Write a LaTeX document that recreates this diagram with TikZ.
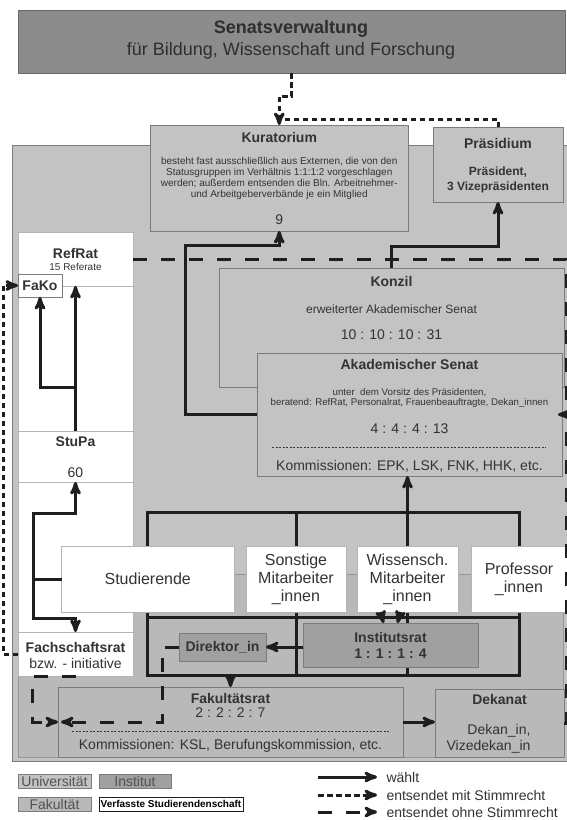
\documentclass[tikz,border=0pt]{standalone}
\usepackage{fontspec}
\setmainfont{Liberation Sans}
\usetikzlibrary{arrows,backgrounds,calc}

\definecolor{univ}{HTML}{C3C3C3}
\definecolor{fakc}{HTML}{B9B9B9}
\definecolor{inst}{HTML}{A0A0A0}
\definecolor{senat}{HTML}{8C8C8C}
\definecolor{edge}{HTML}{7C7C7C}
\definecolor{pale}{HTML}{B4B4B4}
\definecolor{txt}{HTML}{333333}
\definecolor{lin}{HTML}{1E1E1E}

\begin{document}
\begin{tikzpicture}[x=1pt,y=-1pt,>=stealth',
    box/.style={draw=edge,line width=0.6pt,inner sep=0pt,outer sep=0pt,anchor=north west},
    sz/.style 2 args={minimum width=#1pt,minimum height=#2pt},
    unibox/.style={box,fill=univ},
    fakbox/.style={box,fill=fakc},
    instbox/.style={box,fill=inst},
    vsbox/.style={box,fill=white,draw=pale},
    wahl/.style={line width=3pt,draw=lin},
    mit/.style={line width=3pt,draw=lin,dash pattern=on 5.5pt off 3.5pt},
    ohne/.style={line width=3pt,draw=lin,dash pattern=on 14pt off 14pt},
    sepline/.style={draw=txt,line width=0.5pt,dash pattern=on 2pt off 1.5pt}]
  \tikzstyle{ttl}=[text=txt,font=\bfseries\fontsize{14}{16}\selectfont]
  \tikzstyle{big}=[text=txt,font=\fontsize{14}{16}\selectfont]
  \tikzstyle{grp}=[text=txt,align=center,font=\fontsize{16}{18}\selectfont]
  \tikzstyle{fine}=[text=txt,align=center,font=\fontsize{10}{11}\selectfont]

  \useasboundingbox (0,0) rectangle (567,820);
  \begin{scope}[on background layer]
    \fill[white] (0,0) rectangle (567,820);
    \node[unibox,sz={556}{616}]            (uni) at (12.5,145) {};
    \node[fakbox,draw=edge!80,sz={545}{183}] (fak) at (18,574) {};
  \end{scope}

  \node[box,fill=senat,draw=senat!75!black,sz={547}{63}] (senat) at (18,10) {};
  \node[ttl,text=txt!90!black,font=\bfseries\fontsize{18}{20}\selectfont] (senatT) at (291,29) {Senatsverwaltung};
  \node[big,text=txt!90!black,font=\fontsize{18}{20}\selectfont] (senatS) at (291,51) {für Bildung, Wissenschaft und Forschung};

  \node[unibox,sz={257.5}{106}] (kura)  at (150.5,125) {};
  \node[ttl]                    (kuraT) at (279.25,137) {Kuratorium};
  \node[fine]                   (kuraB) at (279.25,178.5) {besteht fast ausschließlich aus Externen, die von den\\
    Statusgruppen im Verhältnis 1:1:1:2 vorgeschlagen\\
    werden; außerdem entsenden die Bln. Arbeitnehmer-\\
    und Arbeitgeberverbände je ein Mitglied};
  \node[big]                    (kuraN) at (279.25,220) {9};

  \node[unibox,sz={130}{75}]    (praes)  at (433,127) {};
  \node[ttl]                    (praesT) at (498,143) {Präsidium};
  \node[ttl,align=center,font=\bfseries\fontsize{12}{15}\selectfont] (praesB) at (498,179.5) {Präsident,\\3 Vizepräsidenten};

  \node[vsbox,sz={115}{444}]    (vs)      at (18,232) {};
  \node[vsbox,sz={115}{54}]     (refrat)  at (18,232) {};
  \node[ttl]                    (refratT) at (75.5,253) {RefRat};
  \node[fine]                   (refratS) at (75.5,267) {15 Referate};
  \node[vsbox,draw=edge,ttl,sz={44}{23}] (fako) at (18,274) {FaKo};
  \node[vsbox,sz={115}{51}]     (stupa)   at (18,431) {};
  \node[ttl]                    (stupaT)  at (75.5,442) {StuPa};
  \node[big]                    (stupaN)  at (75.5,473) {60};
  \node[vsbox,sz={115}{44}]     (fsr)     at (18,632) {};
  \node[ttl]                    (fsrT)    at (75.5,647) {Fachschaftsrat};
  \node[big]                    (fsrS)    at (75.5,663) {bzw. - initiative};

  \node[unibox,sz={345}{119}]   (konzil)  at (219,268) {};
  \node[ttl]                    (konzilT) at (391.5,281) {Konzil};
  \node[fine,font=\fontsize{12}{14}\selectfont] (konzilS) at (391.5,309) {erweiterter Akademischer Senat};
  \node[big]                    (konzilN) at (391.5,335) {10 : 10 : 10 : 31};

  \node[unibox,sz={305}{123}]   (as)  at (257,353) {};
  \node[ttl]                    (asT) at (409.5,364) {Akademischer Senat};
  \node[fine,font=\fontsize{9.7}{10.5}\selectfont] (asS) at (409.5,398) {unter~ dem Vorsitz des Präsidenten,\\
    beratend: RefRat, Personalrat, Frauenbeauftragte, Dekan\_innen};
  \node[big]                    (asN) at (409.5,429) {4 : 4 : 4 : 13};
  \draw[sepline] ($(as.south west)+(15,-29)$) -- ($(as.south east)+(-16,-29)$);
  \node[big]                    (asK) at (409.5,466) {Kommissionen: EPK, LSK, FNK, HHK, etc.};

  \node[vsbox,grp,sz={172.5}{66}] (stud)  at (61.5,546) {Studierende};
  \node[vsbox,grp,sz={100}{66}]   (sonst) at (246,546)  {Sonstige\\Mitarbeiter\\\_innen};
  \node[vsbox,grp,sz={101}{66}]   (wiss)  at (357,546)  {Wissensch.\\Mitarbeiter\\\_innen};
  \node[vsbox,grp,sz={96}{66}]    (prof)  at (471,546)  {Professor\\\_innen};

  \node[instbox,ttl,sz={87}{28}] (dir)   at (179,633) {Direktor\_in};
  \node[instbox,sz={175}{44}]    (irat)  at (303,623) {};
  \node[ttl,align=center]        (iratT) at (390.5,645) {Institutsrat\\1 : 1 : 1 : 4};

  \node[fakbox,sz={345}{70}]     (frat)  at (58,687) {};
  \node[ttl]                     (fratT) at (230.5,698) {Fakultätsrat};
  \node[big]                     (fratN) at (230.5,713) {2 : 2 : 2 : 7};
  \draw[sepline] ($(frat.south west)+(14,-26)$) -- ($(frat.south east)+(-13,-26)$);
  \node[big]                     (fratK) at (230.5,746) {Kommissionen: KSL, Berufungskommission, etc.};

  \node[fakbox,sz={129}{68}]     (dekanat)  at (435,689) {};
  \node[ttl]                     (dekanatT) at (499.5,699) {Dekanat};
  \node[big,align=right,anchor=east] (dekanatB) at (534,739) {Dekan\_in,\\Vizedekan\_in};

  \node[unibox,big,text=txt!85,sz={73}{14}]  (lgUni)  at (18,774) {Universität};
  \node[instbox,big,text=txt!85,sz={72}{14}] (lgInst) at (99,774) {Institut};
  \node[fakbox,big,text=txt!85,sz={73}{14}]  (lgFak)  at (18,797) {Fakultät};
  \node[vsbox,draw=lin,text=black,font=\bfseries\fontsize{10}{11}\selectfont,sz={144}{14}] (lgVS) at (99,797) {Verfasste Studierendenschaft};
  \foreach \n/\y/\s/\t in {lgW/777/wahl/wählt,lgM/795/mit/entsendet mit Stimmrecht,lgO/812/ohne/entsendet ohne Stimmrecht}{
    \node[big,anchor=west] (\n) at (383,\y) {\t};
    \coordinate (\n0) at (318,\y);
    \draw[\s,->] (\n0) -- ([xshift=-6pt]\n.west);
  }

  \coordinate (gtop) at (0,512);
  \coordinate (gmid) at (0,617);
  \coordinate (gbot) at (0,675);
  \begin{scope}[on background layer]
    \draw[wahl] (stud.center |- gtop) rectangle (prof.center |- gbot);
    \draw[wahl] (stud.center |- gmid) -- (prof.center |- gmid);
    \foreach \g in {sonst,wiss}
      \draw[wahl] (\g.center |- gtop) -- (\g.center |- gbot);
  \end{scope}

  \draw[mit,->] (senat.south) -- ++(0,23) -| (kura.north);
  \coordinate (kuraIn) at ([yshift=6pt]kura.north);
  \draw[mit] (praes.north) |- (kuraIn);
  \draw[wahl,->] (konzil.north) -- ++(0,-22) -| (praes.south);
  \coordinate (kuraBend) at (185,245);
  \draw[wahl,->] (as.west) -| (kuraBend) -| (kura.south);
  \coordinate (rEdge) at (566.5,0);
  \draw[ohne,->] (refrat.east) -| (rEdge |- as.east) -- ([xshift=-4pt]as.east);
  \draw[ohne] (dekanat.east) -| (rEdge |- as.east);

  \draw[wahl,->] (stupa.north) -- (refrat.south);
  \coordinate (stupaFork) at (75.5,387);
  \draw[wahl,->] (stupaFork) -| (fako.south);
  \coordinate (studLeft) at (33,579);
  \draw[wahl,->] (stud.west) -- (studLeft) |- ([yshift=-31pt]stupa.south) -- (stupa.south);
  \draw[wahl,->] (studLeft) |- ([yshift=14pt]fsr.north) -- (fsr.north);
  \draw[mit,->] (fsr.west) -- ++(-15,0) |- (fako.west);
  \draw[ohne,->] (fsr.south) -- ++(-43,0) |- (frat.west);
  \draw[ohne,->] (dir.west) -- ++(-17,0) |- ([xshift=3pt]frat.west);

  \draw[wahl,->] (wiss.north |- gtop) -- (wiss.north |- as.south);
  \draw[wahl,->] (irat.west |- dir.east) -- (dir.east);
  \foreach \dx/\ex in {-10/-7,10/7}
    \draw[wahl,->] ([xshift=\dx pt,yshift=11pt]irat.north) -- ([xshift=\ex pt]irat.north);
  \draw[wahl,->] (frat.north |- gbot) -- (frat.north);
  \draw[wahl,->] (frat.east) -- (frat.east -| dekanat.west);
\end{tikzpicture}
\end{document}
